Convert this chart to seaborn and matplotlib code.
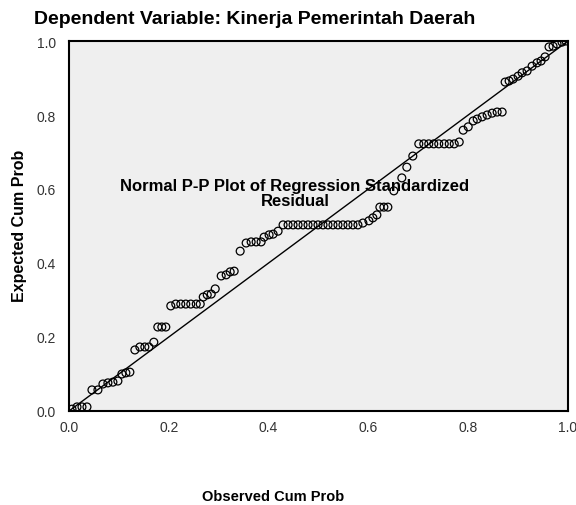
import matplotlib
matplotlib.use("Agg")
import matplotlib.pyplot as plt
import seaborn as sns
import pandas as pd

observed = [0.006, 0.016, 0.026, 0.036,
            0.046, 0.058,
            0.068, 0.078, 0.088, 0.098,
            0.106, 0.114, 0.122,
            0.132, 0.142, 0.152, 0.160, 0.170,
            0.178, 0.186, 0.194,
            0.204, 0.214, 0.224, 0.234, 0.244, 0.255, 0.263,
            0.269, 0.277, 0.285, 0.293,
            0.305, 0.315, 0.323, 0.331,
            0.343, 0.355, 0.365, 0.375, 0.385,
            0.391, 0.401, 0.409, 0.419,
            0.429, 0.439, 0.449, 0.459, 0.469, 0.479, 0.489, 0.499,
            0.509, 0.519, 0.529, 0.539, 0.549, 0.559, 0.569, 0.579,
            0.589,
            0.601, 0.609, 0.617, 0.623, 0.631, 0.639, 0.651, 0.667, 0.677, 0.689,
            0.701, 0.711, 0.721, 0.731, 0.741, 0.752, 0.762, 0.772, 0.782,
            0.790, 0.800, 0.810, 0.818, 0.828, 0.838, 0.848, 0.858, 0.868,
            0.874, 0.882, 0.890, 0.900, 0.908, 0.918, 0.928, 0.938, 0.946, 0.954,
            0.962, 0.970, 0.978, 0.988, 0.996]

expected = [0.005, 0.011, 0.011, 0.011,
            0.057, 0.057,
            0.073, 0.076, 0.078, 0.081,
            0.100, 0.103, 0.105,
            0.165, 0.173, 0.173, 0.173, 0.186,
            0.227, 0.227, 0.227,
            0.284, 0.289, 0.289, 0.289, 0.289, 0.289, 0.289,
            0.308, 0.314, 0.316, 0.330,
            0.365, 0.368, 0.376, 0.378,
            0.432, 0.454, 0.457, 0.457, 0.457,
            0.470, 0.476, 0.478, 0.486,
            0.503, 0.503, 0.503, 0.503, 0.503, 0.503, 0.503, 0.503,
            0.503, 0.503, 0.503, 0.503, 0.503, 0.503, 0.503, 0.503,
            0.508,
            0.514, 0.522, 0.530, 0.551, 0.551, 0.551, 0.595, 0.630, 0.659, 0.689,
            0.722, 0.722, 0.722, 0.722, 0.722, 0.722, 0.722, 0.722, 0.727,
            0.759, 0.768, 0.784, 0.789, 0.795, 0.800, 0.805, 0.808, 0.808,
            0.889, 0.892, 0.897, 0.905, 0.914, 0.919, 0.932, 0.941, 0.946, 0.957,
            0.984, 0.986, 0.992, 0.997, 1.000]

ref_line = [0.0, 1.0]
tick_vals = [0.0, 0.2, 0.4, 0.6, 0.8, 1.0]
tick_labels = ["0.0", "0.2", "0.4", "0.6", "0.8", "1.0"]

sns.set_style("white")
plt.rcParams['font.family'] = ['Liberation Sans', 'DejaVu Sans']
plt.rcParams['text.color'] = 'black'

df = pd.DataFrame({"Observed Cum Prob": observed, "Expected Cum Prob": expected})
line_df = pd.DataFrame({"x": ref_line, "y": ref_line})

fig = plt.figure(figsize=(5.76, 5.06), dpi=100)
ax = fig.add_axes([69/576, 1-412/506, (568-69)/576, (412-42)/506])
ax.set_facecolor("#efefef")

sns.lineplot(data=line_df, x="x", y="y", ax=ax, color="black", linewidth=1.0)
sns.scatterplot(data=df, x="Observed Cum Prob", y="Expected Cum Prob", ax=ax,
                marker="o", s=32, facecolor="none", edgecolor="black",
                linewidth=0.9, zorder=3)

ax.set_xlim(0, 1)
ax.set_ylim(0, 1)
ax.set_xticks(tick_vals)
ax.set_xticklabels(tick_labels)
ax.set_yticks(tick_vals)
ax.set_yticklabels(tick_labels)
ax.tick_params(axis="both", direction="out", width=1.2, color="black",
               labelsize=10, labelcolor="#333333")
ax.tick_params(axis="x", length=4, pad=2.5)
ax.tick_params(axis="y", length=9, pad=0.5)
for sp in ax.spines.values():
    sp.set_visible(True)
    sp.set_color("black")
    sp.set_linewidth(1.5)

ax.set_xlabel("")
ax.set_ylabel("")
fig.text(273/576, 1-497/506, "Observed Cum Prob", ha="center", va="center",
         fontsize=10.5, fontweight="bold", color="black")
fig.text(20/576, 1-226/506, "Expected Cum Prob", ha="center", va="center",
         rotation=90, fontsize=11.5, fontweight="bold", color="black")
fig.text(34/576, 1-20/506, "Dependent Variable: Kinerja Pemerintah Daerah",
         ha="left", va="center", fontsize=14, fontweight="bold", color="black")
ax.text(0.453, 0.59, "Normal P-P Plot of Regression Standardized\nResidual",
        transform=ax.transData, ha="center", va="center", fontsize=12,
        fontweight="bold", multialignment="center", linespacing=1.0,
        color="black", zorder=4)

fig.savefig("out.png", dpi=100, facecolor="white")
